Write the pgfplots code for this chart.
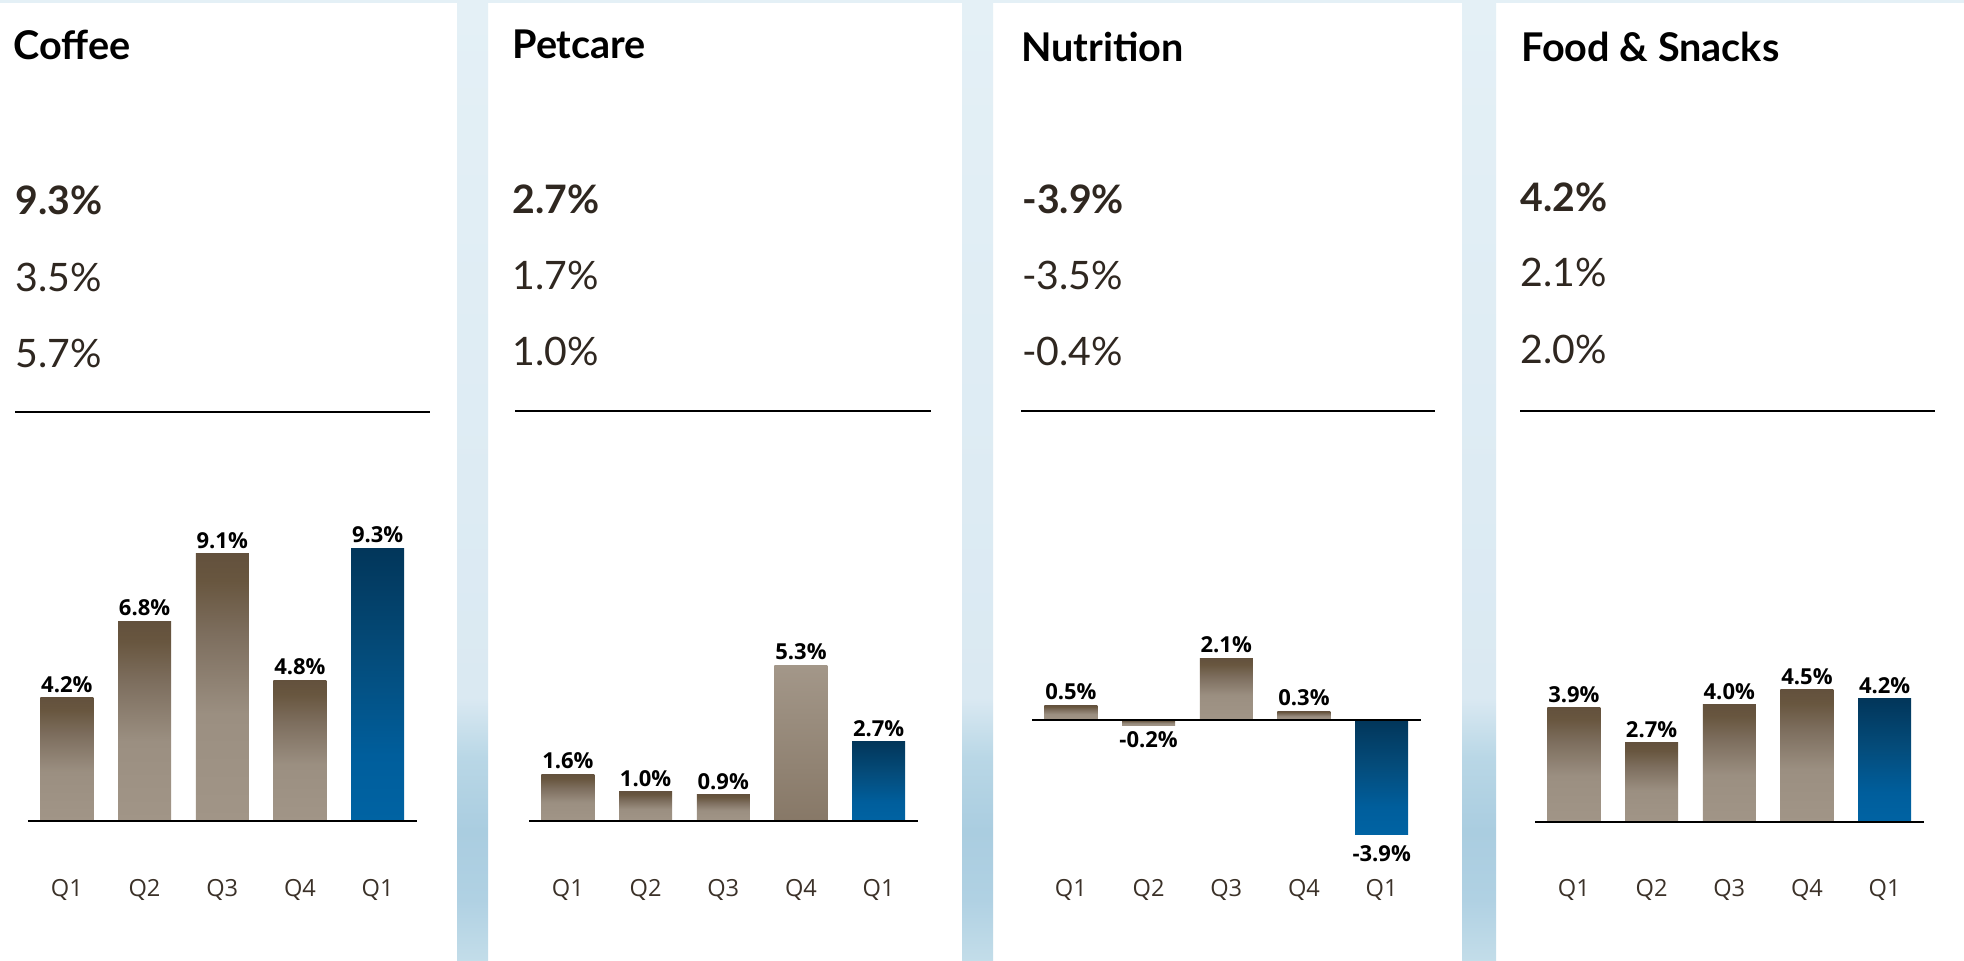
\documentclass[border=0pt]{standalone}
\usepackage{fontspec}
\setmainfont{Open Sans}
\newfontfamily\lato{Lato}
\usepackage{pgfplots}
\pgfplotsset{compat=1.18}

\definecolor{brBot}{HTML}{A19587}
\definecolor{brBotB}{HTML}{9B8F81}
\definecolor{brMid}{HTML}{7D6E5E}
\definecolor{brTopB}{HTML}{68563F}
\definecolor{brTop}{HTML}{63513D}
\definecolor{blBot}{HTML}{0063A3}
\definecolor{blBotB}{HTML}{005E9C}
\definecolor{blMid}{HTML}{044C7B}
\definecolor{blTop}{HTML}{02365A}
\definecolor{ltTop}{HTML}{A39789}
\definecolor{ltBot}{HTML}{877867}
\definecolor{stA}{HTML}{C3DDE9}
\definecolor{stB}{HTML}{B0D1E3}
\definecolor{stC}{HTML}{AACDE0}
\definecolor{stD}{HTML}{B9D7E6}
\definecolor{stE}{HTML}{DAE9F2}
\definecolor{stF}{HTML}{E4F0F6}
\definecolor{valc}{HTML}{2F2720}
\definecolor{tickc}{HTML}{3B3128}

\pgfdeclareverticalshading{brownbar}{100bp}{color(0bp)=(brBot); color(25bp)=(brBot); color(45bp)=(brBotB); color(60bp)=(brMid); color(70bp)=(brTopB); color(75bp)=(brTop); color(100bp)=(brTop)}
\pgfdeclareverticalshading{bluebar}{100bp}{color(0bp)=(blBot); color(25bp)=(blBot); color(37bp)=(blBotB); color(55bp)=(blMid); color(75bp)=(blTop); color(100bp)=(blTop)}
\pgfdeclareverticalshading{lightbar}{100bp}{color(0bp)=(ltBot); color(25bp)=(ltBot); color(75bp)=(ltTop); color(100bp)=(ltTop)}
\pgfdeclareverticalshading{strip}{100bp}{color(0bp)=(stA); color(25bp)=(stA); color(28.2bp)=(stB); color(31.8bp)=(stC); color(35.6bp)=(stD); color(38.7bp)=(stE); color(75bp)=(stF); color(100bp)=(stF)}

\pgfplotsset{
  panel/.style={
    x=38.85pt, y=14.675pt, xmin=-0.5, xmax=4.5, ymax=10,
    anchor=south west, clip=false,
    axis line style={draw=none}, ytick=\empty, xtick={0,1,2,3,4},
    xticklabels={Q1,Q2,Q3,Q4,Q1}, major tick length=0pt, xtick style={draw=none},
    xticklabel style={anchor=base, yshift=-13.5pt, font=\fontsize{11.8}{14}\selectfont, text=tickc},
    ybar, bar width=26.5pt, bar shift=0pt,
    point meta=explicit symbolic,
    nodes near coords={\pgfplotspointmeta\%},
    every node near coord/.append style={font=\bfseries\fontsize{11}{13}\selectfont, text=black, inner sep=0pt, outer sep=2.6pt, anchor=south},
  },
  br/.style={draw=none, shade, shading=brownbar},
  bl/.style={draw=none, shade, shading=bluebar},
  lt/.style={draw=none, shade, shading=lightbar},
  neg/.style={every node near coord/.append style={anchor=north}},
}
\tikzset{
  ttl/.style={anchor=base west, inner sep=0pt, font=\lato\bfseries\fontsize{19.8}{22}\selectfont, text=black},
  vb/.style={anchor=base west, inner sep=0pt, font=\lato\bfseries\fontsize{19.6}{22}\selectfont, text=valc},
  vr/.style={anchor=base west, inner sep=0pt, font=\lato\fontsize{19.6}{22}\selectfont, text=valc},
}

\begin{document}
\begin{tikzpicture}[x=0.5pt,y=0.5pt]
\path[use as bounding box, fill=white] (0,0) rectangle (1964,961);
% top strip and separators
\fill[stF] (0,958) rectangle (1964,961);
\shade[shading=strip] (457,0) rectangle (488,961);
\shade[shading=strip] (962,0) rectangle (993,961);
\shade[shading=strip] (1462,0) rectangle (1496,961);

% Headers
\node[ttl] at (13,901) {Coffee};
\node[vb] at (15,746) {9.3\%};
\node[vr] at (15,669) {3.5\%};
\node[vr] at (15,593) {5.7\%};
\draw[line width=0.85pt, black] (15,549) -- (430,549);

\node[ttl] at (512,902) {Petcare};
\node[vb] at (512,747) {2.7\%};
\node[vr] at (512,671) {1.7\%};
\node[vr] at (512,595) {1.0\%};
\draw[line width=0.85pt, black] (515,550) -- (931,550);

\node[ttl] at (1021,899) {Nutrition};
\node[vb] at (1022,747) {-3.9\%};
\node[vr] at (1022,671) {-3.5\%};
\node[vr] at (1022,595) {-0.4\%};
\draw[line width=0.85pt, black] (1021,550) -- (1435,550);

\node[ttl] at (1521,899) {Food \& Snacks};
\node[vb] at (1520,749) {4.2\%};
\node[vr] at (1520,674) {2.1\%};
\node[vr] at (1520,597) {2.0\%};
\draw[line width=0.85pt, black] (1520,550) -- (1935,550);

% Coffee
\begin{axis}[panel, at={(14pt,45.5pt)}, ymin=-1.67]
\addplot[br] coordinates {(0,4.2) [4.2]};
\addplot[br] coordinates {(1,6.8) [6.8]};
\addplot[br] coordinates {(2,9.1) [9.1]};
\addplot[br] coordinates {(3,4.8) [4.8]};
\addplot[bl] coordinates {(4,9.3) [9.3]};
\draw[line width=0.8pt, black] (axis cs:-0.5,0) -- (axis cs:4.5,0);
\end{axis}

% Petcare
\begin{axis}[panel, at={(264.5pt,45.5pt)}, ymin=-1.67]
\addplot[br] coordinates {(0,1.6) [1.6]};
\addplot[br] coordinates {(1,1.0) [1.0]};
\addplot[br] coordinates {(2,0.9) [0.9]};
\addplot[lt] coordinates {(3,5.3) [5.3]};
\addplot[bl] coordinates {(4,2.7) [2.7]};
\draw[line width=0.8pt, black] (axis cs:-0.5,0) -- (axis cs:4.5,0);
\end{axis}

% Nutrition
\begin{axis}[panel, at={(516pt,45.5pt)}, ymin=-5.111]
\addplot[br] coordinates {(0,0.5) [0.5]};
\addplot[br, neg] coordinates {(1,-0.2) [-0.2]};
\addplot[br] coordinates {(2,2.1) [2.1]};
\addplot[br] coordinates {(3,0.3) [0.3]};
\addplot[bl, neg, every node near coord/.append style={yshift=-3pt}] coordinates {(4,-3.9) [-3.9]};
\draw[line width=0.8pt, black] (axis cs:-0.5,0) -- (axis cs:4.5,0);
\end{axis}

% Food & Snacks
\begin{axis}[panel, at={(767.5pt,45.5pt)}, ymin=-1.635]
\addplot[br] coordinates {(0,3.9) [3.9]};
\addplot[br] coordinates {(1,2.7) [2.7]};
\addplot[br] coordinates {(2,4.0) [4.0]};
\addplot[br] coordinates {(3,4.5) [4.5]};
\addplot[bl] coordinates {(4,4.2) [4.2]};
\draw[line width=0.8pt, black] (axis cs:-0.5,0) -- (axis cs:4.5,0);
\end{axis}
\end{tikzpicture}
\end{document}
